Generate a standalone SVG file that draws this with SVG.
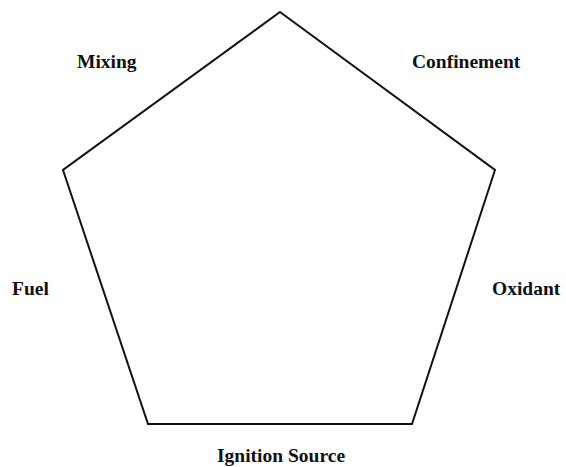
<svg xmlns="http://www.w3.org/2000/svg" width="566" height="467" viewBox="0 0 566 467">
<style>
.lbl{font-family:"Liberation Serif","Times New Roman",serif;font-weight:bold;font-size:19.5px;fill:#111}
.edge{fill:none;stroke:#111;stroke-width:2;stroke-linejoin:miter}
</style>
<rect width="566" height="467" fill="#fff"/>
<g id="connectors">
<polygon class="edge" points="280,12 495,170 412,424 148,424 63,170"/>
</g>
<g id="mixing"><text class="lbl" x="77" y="68">Mixing</text></g>
<g id="confinement"><text class="lbl" x="412" y="68">Confinement</text></g>
<g id="fuel"><text class="lbl" x="12" y="295">Fuel</text></g>
<g id="oxidant"><text class="lbl" x="492" y="295">Oxidant</text></g>
<g id="ignition"><text class="lbl" x="217" y="462">Ignition Source</text></g>
</svg>
